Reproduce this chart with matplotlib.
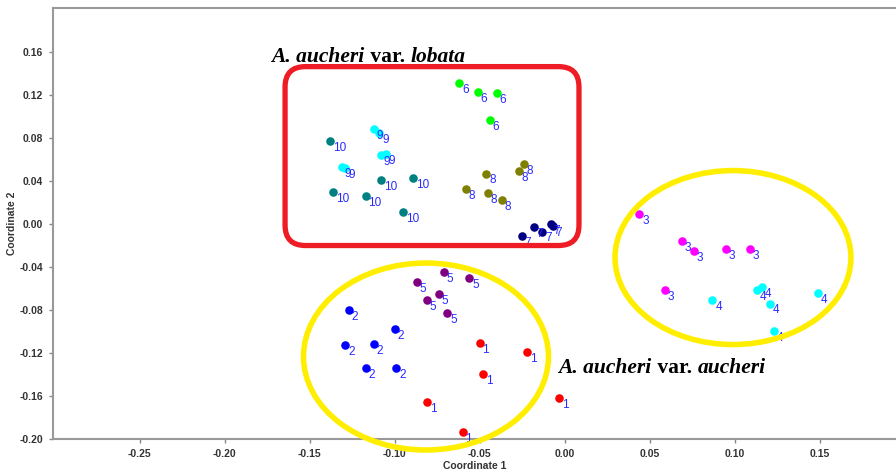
import numpy as np
import matplotlib.pyplot as plt
from matplotlib.patches import FancyBboxPatch, Ellipse, Rectangle

# group number, colour and coordinates of every sample
groups = ['1', '2', '3', '4', '5', '6', '7', '8', '9', '10']
colors = ['#ff0000', '#0000ff', '#ff00ff', '#00ffff', '#800080',
          '#00ff00', '#000080', '#808000', '#00ffff', '#008080']
xs = [
    [-0.050, -0.022, -0.048, -0.081, -0.003, -0.060],
    [-0.127, -0.100, -0.129, -0.112, -0.117, -0.099],
    [0.044, 0.069, 0.076, 0.095, 0.109, 0.059],
    [0.087, 0.113, 0.116, 0.121, 0.149, 0.123],
    [-0.087, -0.071, -0.056, -0.074, -0.081, -0.069],
    [-0.062, -0.051, -0.040, -0.044],
    [-0.018, -0.013, -0.008, -0.007, -0.025],
    [-0.046, -0.024, -0.027, -0.058, -0.045, -0.037],
    [-0.112, -0.109, -0.108, -0.105, -0.131, -0.129],
    [-0.138, -0.136, -0.117, -0.108, -0.089, -0.095],
]
ys = [
    [-0.111, -0.119, -0.140, -0.166, -0.162, -0.194],
    [-0.080, -0.098, -0.113, -0.112, -0.134, -0.134],
    [0.009, -0.016, -0.025, -0.023, -0.023, -0.061],
    [-0.071, -0.061, -0.059, -0.074, -0.064, -0.100],
    [-0.054, -0.045, -0.050, -0.065, -0.071, -0.083],
    [0.131, 0.123, 0.122, 0.097],
    [-0.003, -0.007, 0.000, -0.002, -0.011],
    [0.047, 0.056, 0.049, 0.033, 0.029, 0.022],
    [0.088, 0.085, 0.064, 0.065, 0.053, 0.052],
    [0.077, 0.030, 0.026, 0.041, 0.043, 0.011],
]

fig = plt.figure(figsize=(8.96, 4.74), dpi=100)
ax = fig.add_axes([0.059, 0.074, 0.941, 0.909])

for g, c, x, y in zip(groups, colors, xs, ys):
    ax.scatter(x, y, s=38, color=c, zorder=3, linewidths=0)
    for xi, yi in zip(x, y):
        ax.annotate(g, (xi, yi), xytext=(2, -5), textcoords='offset points',
                    ha='left', va='center', fontsize=8.5, color='#2a2aff',
                    family='Liberation Sans', zorder=4)

ax.set_xlim(-0.301, 0.195)
ax.set_ylim(-0.2, 0.201)
ax.set_xticks([-0.25, -0.20, -0.15, -0.10, -0.05, 0.00, 0.05, 0.10, 0.15])
ax.set_yticks([-0.20, -0.16, -0.12, -0.08, -0.04, 0.00, 0.04, 0.08, 0.12, 0.16])
ax.xaxis.set_major_formatter(plt.FormatStrFormatter('%.2f'))
ax.yaxis.set_major_formatter(plt.FormatStrFormatter('%.2f'))
for lab in ax.get_xticklabels() + ax.get_yticklabels():
    lab.set_fontweight('bold')
    lab.set_family('Liberation Sans')
ax.tick_params(labelsize=7.5, colors='#333333', length=3, width=1, pad=4)
ax.tick_params(color='#888888')
for s in ['left', 'bottom', 'top']:
    ax.spines[s].set_color('#999999')
    ax.spines[s].set_linewidth(1.5)
ax.spines['right'].set_visible(False)

ax.set_xlabel('Coordinate 1', fontsize=7.5, fontweight='bold', family='Liberation Sans',
              color='#333333', labelpad=2)
ax.set_ylabel('Coordinate 2', fontsize=7.5, fontweight='bold', family='Liberation Sans',
              color='#333333', labelpad=2)

# red rounded box round var. lobata
box = FancyBboxPatch((-0.1644, -0.020), 0.1729, 0.1665,
                     boxstyle='round,pad=0,rounding_size=0.012',
                     mutation_aspect=1.58, fill=False, edgecolor='#ee1c24',
                     linewidth=3.8, zorder=5, clip_on=False)
ax.add_patch(box)

# yellow ellipses round var. aucheri
ax.add_patch(Ellipse((-0.0815, -0.1233), 0.1441, 0.174, fill=False,
                     edgecolor='#ffee00', linewidth=4, zorder=5, clip_on=False))
ax.add_patch(Ellipse((0.0991, -0.0312), 0.1388, 0.1619, fill=False,
                     edgecolor='#ffee00', linewidth=4, zorder=5, clip_on=False))

# captions: italic / upright pieces laid one after another
renderer = fig.canvas.get_renderer()
def caption(x, y, pieces):
    dx = 0
    for txt, style in pieces:
        t = ax.annotate(txt, (x, y), xytext=(dx, 0), textcoords='offset points',
                        family='Liberation Serif', fontsize=15.5, fontweight='bold',
                        fontstyle=style, color='black', zorder=6)
        w = t.get_window_extent(renderer).width
        dx += w * 72 / fig.dpi

caption(-0.1724, 0.151, [('A. aucheri', 'italic'), (' var. ', 'normal'), ('lobata', 'italic')])
caption(-0.0035, -0.1385, [('A. aucheri', 'italic'), (' var. ', 'normal'), ('aucheri', 'italic')])
# right end of the lower caption is cut off in the original
ax.add_patch(Rectangle((0.1188, -0.146), 0.02, 0.018, color='white', zorder=7,
                       linewidth=0))

fig.savefig('out.png', dpi=100)
